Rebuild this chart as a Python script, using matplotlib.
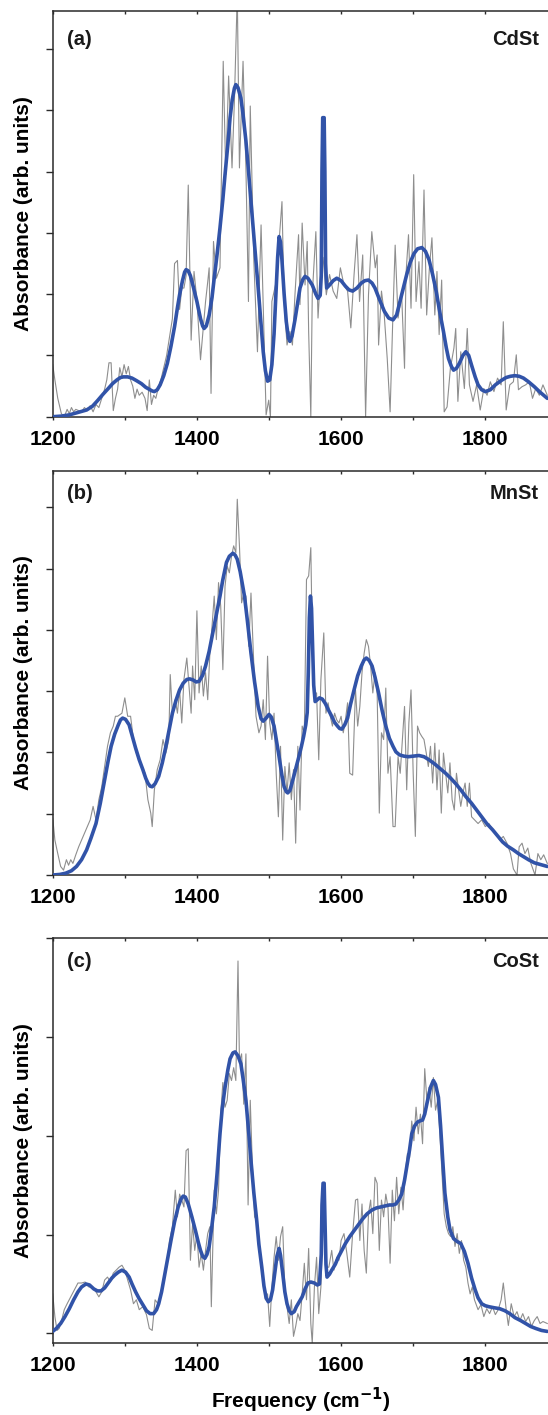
import matplotlib
matplotlib.use("Agg")
import matplotlib.pyplot as plt

plt.rcParams['font.family'] = ['Liberation Sans', 'DejaVu Sans']
plt.rcParams['font.weight'] = 'bold'
plt.rcParams['mathtext.default'] = 'bf'

# ---- panel (a) CdSt ----
a_fit_f = [1200, 1212, 1223, 1235, 1247, 1255, 1262, 1270, 1277, 1283, 1289, 1294, 1298, 1304,
           1310, 1316, 1323, 1329, 1335, 1338, 1341, 1345, 1349, 1354, 1359, 1364, 1369, 1373,
           1376, 1380, 1383, 1385, 1388, 1391, 1395, 1400, 1405, 1408, 1410, 1413, 1417, 1421,
           1424, 1428, 1432, 1436, 1439, 1443, 1446, 1449, 1452, 1454, 1457, 1461, 1464, 1468,
           1472, 1475, 1480, 1485, 1489, 1492, 1495, 1498, 1501, 1504, 1507, 1510, 1512, 1514,
           1516, 1518, 1521, 1524, 1527, 1529, 1532, 1536, 1540, 1543, 1547, 1550, 1554, 1560,
           1565, 1568, 1571, 1572.5, 1573.5, 1574.5, 1576.5, 1577.5, 1578.5, 1580, 1584, 1589,
           1594, 1600, 1606, 1611, 1616, 1622, 1628, 1633, 1638, 1643, 1647, 1653, 1660, 1666,
           1672, 1677, 1681, 1686, 1691, 1696, 1701, 1706, 1712, 1717, 1722, 1727, 1732, 1737,
           1742, 1746, 1749, 1753, 1756, 1760, 1764, 1769, 1773, 1777, 1781, 1786, 1790, 1795,
           1800, 1807, 1814, 1822, 1829, 1835, 1841, 1847, 1853, 1860, 1868, 1876, 1886]
a_fit_v = [0.00, 0.01, 0.03, 0.07, 0.11, 0.17, 0.26, 0.37, 0.46, 0.54, 0.60, 0.64, 0.65, 0.65,
           0.63, 0.59, 0.54, 0.48, 0.44, 0.42, 0.41, 0.44, 0.52, 0.67, 0.87, 1.15, 1.47, 1.78,
           1.99, 2.22, 2.36, 2.40, 2.38, 2.30, 2.12, 1.88, 1.60, 1.48, 1.44, 1.48, 1.66, 1.95,
           2.26, 2.65, 3.08, 3.55, 3.95, 4.45, 4.88, 5.17, 5.36, 5.42, 5.37, 5.20, 4.93, 4.50,
           3.95, 3.51, 2.80, 2.10, 1.50, 1.06, 0.75, 0.58, 0.60, 0.85, 1.35, 2.10, 2.60, 2.94,
           2.85, 2.55, 2.00, 1.55, 1.28, 1.23, 1.32, 1.58, 1.88, 2.10, 2.24, 2.29, 2.26, 2.15,
           2.00, 1.93, 1.98, 2.30, 4.00, 4.88, 4.88, 4.00, 2.50, 2.10, 2.15, 2.22,
           2.26, 2.22, 2.13, 2.07, 2.05, 2.10, 2.18, 2.22, 2.23, 2.18, 2.10, 1.92, 1.72, 1.61,
           1.58, 1.66, 1.85, 2.08, 2.32, 2.52, 2.66, 2.74, 2.76, 2.70, 2.56, 2.32, 2.04, 1.70,
           1.39, 1.12, 0.95, 0.82, 0.76, 0.79, 0.87, 1.00, 1.06, 1.00, 0.84, 0.65, 0.52, 0.44,
           0.41, 0.44, 0.52, 0.59, 0.64, 0.66, 0.67, 0.66, 0.63, 0.57, 0.49, 0.40, 0.30]
a_raw_f = [1200, 1203, 1207, 1212, 1216, 1220, 1223, 1226, 1229, 1232, 1236, 1240, 1244, 1248,
           1252, 1256, 1260, 1264, 1268, 1272, 1275, 1278, 1281, 1284, 1287, 1290, 1293, 1296,
           1299, 1302, 1305, 1308, 1311, 1314, 1317, 1320, 1324, 1328, 1331, 1334, 1337, 1340,
           1343, 1347, 1350, 1354, 1358, 1362, 1366, 1369, 1373, 1376, 1379, 1382, 1385, 1388,
           1392, 1396, 1400, 1405, 1410, 1412, 1415, 1417, 1419.6, 1423, 1427, 1432, 1436.5,
           1440, 1444, 1448.7, 1452, 1456, 1459, 1464, 1468, 1471.5, 1474, 1479, 1484, 1489,
           1493, 1496, 1499.6, 1502, 1504, 1509, 1514, 1518, 1521, 1525, 1529, 1532.5, 1536,
           1541, 1543, 1546, 1550, 1553, 1555, 1558, 1560, 1565, 1568, 1572, 1575, 1579.5,
           1584, 1589, 1594, 1599, 1604, 1609, 1613.5, 1618, 1622, 1625.6, 1630, 1634, 1638,
           1642.6, 1647.4, 1650, 1652, 1656, 1659.5, 1664, 1668, 1671.6, 1675, 1679, 1684,
           1688, 1690, 1693.5, 1697, 1700.7, 1704, 1708, 1711, 1715, 1718.7, 1722.5, 1726,
           1730, 1733, 1736, 1739.5, 1743, 1747, 1751.6, 1756.5, 1759, 1762, 1766, 1771, 1775,
           1778, 1783, 1788, 1793, 1798, 1802.5, 1807, 1812, 1817, 1822, 1825, 1829, 1834,
           1839, 1843, 1846, 1851, 1856, 1861, 1865.5, 1870, 1875, 1880, 1886]
a_raw_v = [0.85, 0.60, 0.30, 0.05, 0.00, 0.12, 0.05, 0.15, 0.08, 0.12, 0.10, 0.08, 0.15, 0.10,
           0.18, 0.08, 0.20, 0.15, 0.30, 0.45, 0.60, 0.88, 0.88, 0.10, 0.30, 0.45, 0.80, 0.65,
           0.85, 0.70, 0.82, 0.60, 0.50, 0.30, 0.45, 0.35, 0.40, 0.30, 0.10, 0.60, 0.20, 0.35,
           0.30, 0.50, 0.60, 0.80, 1.00, 1.30, 1.60, 2.50, 2.55, 1.75, 2.10, 2.10, 2.30, 3.78,
           1.25, 2.37, 1.90, 0.93, 1.60, 1.88, 2.20, 2.43, 0.38, 2.86, 2.26, 2.43, 5.80,
           3.95, 5.56, 4.06, 5.15, 6.90, 4.06, 5.80, 4.06, 1.88, 5.07, 2.53, 1.06, 3.13,
           1.34, 0.03, 0.27, 0.00, 1.88, 2.15, 2.86, 3.51, 1.88, 1.17, 1.39, 1.17, 1.99,
           2.97, 1.83, 3.16, 2.15, 2.86, 1.39, 0.00, 1.99, 3.02, 1.61, 2.43, 2.60, 1.99,
           2.32, 2.05, 1.93, 2.43, 2.15, 2.05, 1.45, 2.32, 2.97, 1.88, 2.64, 0.00, 1.99,
           3.02, 2.43, 2.64, 1.17, 2.05, 1.72, 0.95, 0.08, 1.55, 2.80, 1.61, 1.99,
           0.79, 2.32, 2.97, 1.77, 3.95, 1.88, 2.53, 1.77, 3.70, 1.66, 2.43, 2.92,
           1.66, 2.37, 1.34, 2.23, 0.08, 0.16, 0.79, 1.12, 1.44, 0.25, 1.06, 0.46, 1.44,
           0.52, 0.25, 0.52, 0.11, 0.46, 0.35, 0.57, 0.41, 0.63, 0.52, 1.55, 0.11, 0.52,
           0.57, 1.01, 0.44, 0.49, 0.52, 0.57, 0.30, 0.46, 0.35, 0.52, 0.35]

# ---- panel (b) MnSt ----
b_fit_f = [1200, 1210, 1218, 1226, 1233, 1240, 1247, 1253, 1260, 1266, 1272, 1277, 1281, 1286,
           1291, 1294, 1297, 1301, 1306, 1310, 1315, 1320, 1325, 1329, 1332, 1335, 1338, 1342,
           1347, 1352, 1357, 1362, 1366, 1371, 1376, 1381, 1386, 1390, 1395, 1399, 1403, 1408,
           1412, 1417, 1422, 1427, 1432, 1436, 1441, 1445, 1450, 1453, 1456, 1460, 1466, 1470,
           1475, 1480, 1485, 1489, 1492, 1496, 1500, 1503, 1507, 1510, 1514, 1518, 1521, 1524,
           1526, 1529, 1533, 1537, 1541, 1545, 1548, 1551, 1553, 1554.5, 1556, 1557.5, 1559,
           1560.5, 1562, 1564, 1567, 1570, 1574, 1578, 1583, 1587, 1591, 1595, 1598, 1601, 1605,
           1609, 1613, 1618, 1623, 1628, 1632, 1635, 1639, 1643, 1647, 1652, 1657, 1662, 1667,
           1672, 1676, 1681, 1687, 1693, 1700, 1708, 1715, 1722, 1730, 1737, 1745, 1752, 1759,
           1766, 1773, 1781, 1788, 1795, 1802, 1810, 1817, 1824, 1831, 1839, 1846, 1853, 1860,
           1868, 1877, 1886]
b_fit_v = [0.00, 0.01, 0.03, 0.07, 0.14, 0.25, 0.41, 0.60, 0.84, 1.17, 1.55, 1.87, 2.10, 2.30,
           2.45, 2.53, 2.56, 2.54, 2.45, 2.28, 2.07, 1.88, 1.72, 1.58, 1.50, 1.45, 1.44, 1.49,
           1.61, 1.83, 2.10, 2.40, 2.64, 2.85, 3.02, 3.13, 3.19, 3.20, 3.18, 3.15, 3.16, 3.26,
           3.41, 3.65, 3.95, 4.25, 4.55, 4.82, 5.10, 5.20, 5.25, 5.22, 5.15, 4.95, 4.55, 4.15,
           3.62, 3.15, 2.75, 2.55, 2.51, 2.56, 2.62, 2.58, 2.43, 2.22, 1.93, 1.62, 1.44, 1.36,
           1.34, 1.38, 1.55, 1.73, 1.91, 2.10, 2.26, 2.45, 2.65, 3.30, 4.20, 4.55, 4.35,
           3.70, 3.10, 2.83, 2.86, 2.89, 2.87, 2.80, 2.68, 2.59, 2.49, 2.43, 2.39, 2.38, 2.45,
           2.56, 2.78, 3.02, 3.25, 3.41, 3.51, 3.54, 3.50, 3.41, 3.23, 2.97, 2.68, 2.43, 2.23,
           2.10, 2.01, 1.96, 1.94, 1.93, 1.94, 1.95, 1.93, 1.88, 1.81, 1.74, 1.66, 1.58, 1.49,
           1.39, 1.28, 1.17, 1.06, 0.95, 0.84, 0.74, 0.64, 0.54, 0.47, 0.41, 0.35, 0.30, 0.25,
           0.20, 0.17, 0.14]
b_raw_f = [1200, 1203, 1207, 1211, 1215, 1219, 1222, 1225, 1228, 1232, 1236, 1240, 1244, 1248,
           1252, 1256, 1260, 1264, 1268, 1272, 1276, 1280, 1284, 1287, 1290, 1296, 1300, 1304,
           1308, 1312, 1316, 1320, 1324, 1328, 1332, 1336, 1338, 1341, 1345, 1349, 1353, 1357,
           1361, 1363, 1366, 1370, 1373, 1376, 1379, 1382, 1386, 1389, 1392, 1394, 1397, 1400,
           1403, 1406, 1409, 1412, 1415, 1418, 1421, 1424, 1427, 1430, 1433, 1436, 1439, 1442,
           1445, 1448, 1451, 1454, 1456, 1459, 1462, 1465, 1468, 1472, 1475, 1479, 1482, 1486,
           1489, 1492, 1495, 1498, 1501, 1504, 1507, 1510, 1513, 1516, 1519, 1522, 1525, 1528,
           1531, 1534, 1537, 1540, 1543, 1546, 1549, 1552, 1555, 1558, 1560, 1563, 1566, 1569,
           1572, 1576, 1579, 1582, 1585, 1588, 1591, 1594, 1597, 1600, 1603, 1606, 1609, 1612,
           1616, 1620, 1623, 1626, 1629, 1632, 1635, 1638, 1641, 1644, 1647, 1650, 1653, 1656,
           1659, 1662, 1665, 1668, 1672, 1675, 1679, 1682, 1685, 1688, 1691, 1694, 1697, 1700,
           1703, 1706, 1709, 1712, 1715, 1718, 1721, 1724, 1727, 1730, 1733, 1736, 1739, 1742,
           1745, 1748, 1751, 1754, 1757, 1760, 1763, 1766, 1769, 1772, 1775, 1778, 1781, 1785,
           1790, 1795, 1800, 1805, 1810, 1815, 1820, 1825, 1830, 1835, 1839, 1844, 1847, 1851,
           1855, 1859, 1863, 1869, 1873, 1877, 1881, 1886]
b_raw_v = [0.93, 0.57, 0.35, 0.14, 0.08, 0.25, 0.16, 0.25, 0.19, 0.33, 0.46, 0.57, 0.68, 0.79,
           0.90, 1.12, 0.90, 1.23, 1.44, 1.77, 2.10, 2.32, 2.43, 2.59, 2.59, 2.64, 2.89, 2.59,
           2.59, 2.21, 1.99, 1.88, 1.77, 1.66, 1.23, 1.01, 0.79, 1.39, 1.72, 1.88, 2.21, 1.99,
           2.21, 3.27, 2.64, 2.86, 2.64, 3.02, 2.48, 3.19, 3.54, 3.08, 2.64, 3.41, 2.86, 4.31,
           2.97, 3.41, 2.92, 3.30, 2.86, 3.62, 4.06, 4.55, 3.84, 4.77, 4.39, 3.35, 4.71, 5.04,
           4.93, 5.20, 5.37, 5.26, 6.13, 5.37, 4.44, 4.60, 4.55, 3.73, 4.60, 3.41, 2.59, 2.32,
           2.43, 2.86, 2.21, 3.57, 2.48, 2.21, 2.64, 1.66, 0.95, 2.10, 0.57, 1.77, 1.34, 1.83,
           1.23, 1.72, 0.52, 2.10, 1.06, 2.43, 2.32, 4.82, 4.88, 5.34, 3.84, 2.97, 2.97, 1.88,
           3.19, 3.95, 2.64, 2.81, 2.59, 2.43, 2.64, 2.53, 2.48, 2.59, 2.32, 2.53, 2.81, 1.66,
           1.63, 3.02, 2.43, 2.75, 3.30, 3.62, 3.84, 3.73, 3.41, 2.97, 3.30, 2.97, 1.01, 2.32,
           2.21, 3.05, 1.66, 1.93, 0.79, 0.79, 1.93, 1.66, 2.21, 2.75, 1.39, 2.48, 3.02, 1.66,
           0.63, 2.43, 2.32, 2.26, 2.21, 2.00, 1.77, 2.10, 1.50, 2.15, 1.39, 2.04, 1.01, 1.99,
           1.66, 1.34, 1.83, 1.23, 1.06, 1.66, 1.39, 1.12, 1.34, 1.50, 1.12, 1.50, 0.95, 0.90,
           0.84, 0.90, 0.79, 0.84, 0.74, 0.68, 0.57, 0.63, 0.52, 0.35, 0.10, 0.00, 0.46, 0.52,
           0.35, 0.44, 0.20, 0.00, 0.35, 0.25, 0.33, 0.19]

# ---- panel (c) CoSt ----
c_fit_f = [1200, 1205, 1211, 1217, 1223, 1229, 1235, 1240, 1246, 1251, 1257, 1262, 1267, 1272,
           1277, 1282, 1286, 1291, 1296, 1301, 1306, 1310, 1315, 1320, 1325, 1330, 1335, 1340,
           1344, 1347, 1351, 1354, 1359, 1364, 1369, 1374, 1378, 1381, 1384, 1388, 1393, 1398,
           1402, 1405, 1408, 1411, 1414, 1417, 1420, 1424, 1428, 1432, 1435, 1439, 1443, 1446,
           1450, 1453, 1457, 1461, 1464, 1468, 1472, 1475, 1479, 1483, 1486, 1490, 1493, 1496,
           1499, 1502, 1505, 1508, 1511, 1514, 1516, 1519, 1522, 1525, 1528, 1531, 1535, 1538,
           1542, 1546, 1550, 1554, 1558, 1563, 1567, 1570, 1572.5, 1573.5, 1575, 1576.5, 1577.5,
           1579, 1580.5, 1584, 1587, 1592, 1596, 1601, 1606, 1612, 1618, 1624, 1630, 1636, 1643,
           1649, 1655, 1661, 1667, 1672, 1676, 1680, 1684, 1688, 1691, 1695, 1698, 1702, 1706,
           1709, 1713, 1716, 1720, 1724, 1728, 1731, 1735, 1738, 1741, 1744, 1748, 1751, 1756,
           1761, 1766, 1771, 1776, 1781, 1786, 1790, 1795, 1800, 1805, 1812, 1820, 1827, 1834,
           1841, 1849, 1856, 1863, 1870, 1878, 1886]
c_fit_v = [0.02, 0.05, 0.10, 0.17, 0.25, 0.34, 0.42, 0.47, 0.50, 0.49, 0.45, 0.43, 0.43, 0.46,
           0.51, 0.56, 0.59, 0.62, 0.64, 0.62, 0.57, 0.50, 0.42, 0.35, 0.29, 0.23, 0.20, 0.20,
           0.24, 0.30, 0.42, 0.54, 0.74, 0.94, 1.13, 1.28, 1.36, 1.39, 1.38, 1.31, 1.18, 1.04,
           0.92, 0.84, 0.78, 0.76, 0.80, 0.88, 1.04, 1.28, 1.62, 2.02, 2.27, 2.49, 2.67, 2.78,
           2.84, 2.85, 2.81, 2.73, 2.58, 2.36, 2.02, 1.75, 1.42, 1.14, 0.90, 0.67, 0.48, 0.36,
           0.32, 0.34, 0.44, 0.61, 0.78, 0.86, 0.79, 0.61, 0.42, 0.30, 0.23, 0.20, 0.22, 0.27,
           0.32, 0.37, 0.45, 0.51, 0.52, 0.51, 0.49, 0.50, 0.80, 1.30, 1.52, 1.52, 1.20,
           0.70, 0.57, 0.60, 0.64, 0.70, 0.77, 0.84, 0.91, 0.98, 1.04, 1.10, 1.16, 1.21, 1.25,
           1.27, 1.28, 1.29, 1.30, 1.30, 1.31, 1.35, 1.41, 1.55, 1.68, 1.86, 2.02, 2.10, 2.14,
           2.15, 2.16, 2.22, 2.36, 2.49, 2.56, 2.52, 2.39, 2.10, 1.75, 1.42, 1.18, 1.05, 0.96,
           0.93, 0.91, 0.83, 0.71, 0.56, 0.44, 0.36, 0.30, 0.28, 0.27, 0.26, 0.25, 0.23, 0.20,
           0.16, 0.13, 0.10, 0.07, 0.05, 0.03, 0.02]
c_raw_f = [1200, 1203, 1206, 1209, 1212, 1216, 1220, 1225, 1230, 1235, 1240, 1245, 1250, 1255,
           1260, 1264, 1268, 1272, 1276, 1280, 1284, 1288, 1292, 1296, 1300, 1304, 1308, 1312,
           1316, 1320, 1325, 1330, 1334, 1338, 1342, 1346, 1350, 1354, 1358, 1362, 1366, 1370,
           1373, 1376, 1379, 1382, 1385, 1388, 1391, 1394, 1397, 1400, 1403, 1406, 1409, 1412,
           1415, 1418, 1420, 1424, 1427, 1430, 1433, 1436, 1439, 1442, 1445, 1448, 1451, 1454,
           1457, 1459, 1462, 1465, 1468, 1471, 1474, 1477, 1480, 1483, 1486, 1489, 1492, 1495,
           1498, 1501, 1504, 1507, 1510, 1513, 1516, 1519, 1522, 1525, 1528, 1531, 1534, 1537,
           1540, 1543, 1546, 1549, 1552, 1555, 1558, 1560, 1563, 1566, 1569, 1572, 1576, 1580,
           1583, 1587, 1590, 1594, 1597, 1600, 1604, 1608, 1612, 1616, 1620, 1623, 1626, 1629,
           1632, 1635, 1638, 1641, 1644, 1647, 1650, 1653, 1656, 1659, 1662, 1665, 1668, 1671,
           1674, 1677, 1680, 1683, 1686, 1689, 1692, 1695, 1698, 1701, 1704, 1707, 1710, 1713,
           1716, 1719, 1722, 1725, 1728, 1731, 1734, 1737, 1740, 1743, 1746, 1749, 1752, 1755,
           1758, 1761, 1764, 1767, 1770, 1773, 1776, 1779, 1782, 1785, 1790, 1794, 1798, 1802,
           1806, 1810, 1814, 1818, 1822, 1825, 1829, 1832, 1836, 1840, 1844, 1848, 1852, 1856,
           1860, 1864, 1868, 1872, 1876, 1880, 1886]
c_raw_v = [0.40, 0.17, 0.03, 0.05, 0.12, 0.24, 0.30, 0.37, 0.44, 0.51, 0.51, 0.52, 0.47, 0.47,
           0.42, 0.37, 0.42, 0.54, 0.57, 0.52, 0.61, 0.64, 0.67, 0.69, 0.64, 0.54, 0.44, 0.30,
           0.34, 0.24, 0.27, 0.19, 0.05, 0.03, 0.34, 0.30, 0.40, 0.57, 0.67, 0.94, 1.08, 1.45,
           1.18, 1.41, 1.35, 1.28, 1.85, 1.87, 0.74, 1.11, 0.84, 1.01, 0.67, 0.81, 0.64, 0.84,
           1.01, 1.08, 0.27, 1.45, 1.21, 1.45, 2.22, 2.54, 2.29, 2.36, 2.63, 2.56, 2.69, 2.56,
           3.77, 2.76, 2.83, 2.32, 2.83, 1.30, 2.36, 1.68, 1.18, 1.14, 0.84, 0.74, 0.57, 0.34,
           0.40, 0.07, 0.47, 0.77, 0.98, 0.74, 0.98, 1.08, 0.44, 0.27, 0.10, 0.34, -0.03, 0.07,
           0.20, 0.13, 0.40, 0.71, 0.34, 0.86, 0.10, -0.10, 0.47, 0.77, 0.20, 0.47, 1.35, 0.67,
           0.67, 0.84, 0.64, 0.77, 0.74, 0.94, 1.01, 0.81, 0.57, 1.01, 1.35, 1.36, 0.94, 1.31,
           0.84, 0.61, 1.21, 1.35, 1.01, 1.58, 1.52, 0.84, 1.35, 1.18, 1.41, 1.28, 0.71, 1.45,
           1.14, 1.58, 1.21, 1.48, 1.25, 1.62, 1.82, 1.78, 2.15, 1.95, 2.29, 2.02, 2.22, 1.92,
           2.68, 2.36, 2.49, 2.29, 2.59, 2.26, 2.36, 2.02, 1.62, 1.21, 1.08, 1.01, 0.98, 1.08,
           0.88, 1.01, 0.81, 0.94, 0.74, 0.67, 0.51, 0.40, 0.47, 0.34, 0.24, 0.29, 0.17, 0.25,
           0.20, 0.27, 0.19, 0.24, 0.34, 0.51, 0.24, 0.08, 0.30, 0.17, 0.22, 0.13, 0.20, 0.12,
           0.17, 0.07, 0.13, 0.17, 0.10, 0.12, 0.10]

panels = [
    ("(a)", "CdSt", a_raw_f, a_raw_v, a_fit_f, a_fit_v, [0.7055, 0.2867], (0, 6.62), range(0, 7), 0.931),
    ("(b)", "MnSt", b_raw_f, b_raw_v, b_fit_f, b_fit_v, [0.3816, 0.2855], (0, 6.59), range(0, 7), 0.945),
    ("(c)", "CoSt", c_raw_f, c_raw_v, c_fit_f, c_fit_v, [0.0507, 0.2862], (-0.1, 4.0), range(0, 5), 0.942),
]

blue = '#3153a8'
gray = '#8e8e8e'
spine_col = '#2a2a2a'

fig = plt.figure(figsize=(5.48, 14.15), dpi=100)

for tag, name, rf, rv, ff, fv, (bot, h), ylim, yt, ty in panels:
    ax = fig.add_axes([0.0962, bot, 0.9038, h])
    ax.plot(rf, rv, color=gray, lw=0.8, zorder=2)
    ax.plot(ff, fv, color=blue, lw=2.6, zorder=3, solid_joinstyle='round',
            solid_capstyle='round')
    ax.set_xlim(1200, 1887)
    ax.set_ylim(*ylim)
    ax.spines['right'].set_visible(False)
    for s in ['left', 'bottom', 'top']:
        ax.spines[s].set_color(spine_col)
        ax.spines[s].set_linewidth(1.1)
    ax.set_xticks([1200, 1400, 1600, 1800])
    ax.set_xticks([1300, 1500, 1700], minor=True)
    ax.set_yticks(list(yt))
    ax.set_yticklabels([])
    ax.tick_params(axis='x', which='both', direction='out', length=2.5, width=1.0,
                   color=spine_col, labelsize=15, pad=7)
    ax.tick_params(axis='y', direction='out', length=5, width=1.0, color=spine_col)
    top = ax.secondary_xaxis('top')
    top.set_xticks([1200, 1300, 1400, 1500, 1600, 1700, 1800])
    top.set_xticklabels([])
    top.tick_params(direction='in', length=2, width=1.0, color=spine_col)
    top.spines['top'].set_visible(False)
    ax.set_ylabel('Absorbance (arb. units)', fontsize=15, fontweight='bold')
    ax.yaxis.set_label_coords(-0.040, 0.5)
    ax.text(0.029, ty, tag, transform=ax.transAxes, fontsize=14.5, fontweight='bold',
            ha='left', va='center', color='#1a1a1a')
    ax.text(0.982, ty, name, transform=ax.transAxes, fontsize=14.5, fontweight='bold',
            ha='right', va='center', color='#1a1a1a')

# x label: place its baseline where the reference has it
ax.set_xlabel('Frequency (cm$^{-1}$)', fontsize=15, fontweight='bold')
ax.xaxis.label.set_verticalalignment('baseline')
ax.xaxis.set_label_coords(0.5, -0.160)

fig.savefig('out.png', dpi=100)
